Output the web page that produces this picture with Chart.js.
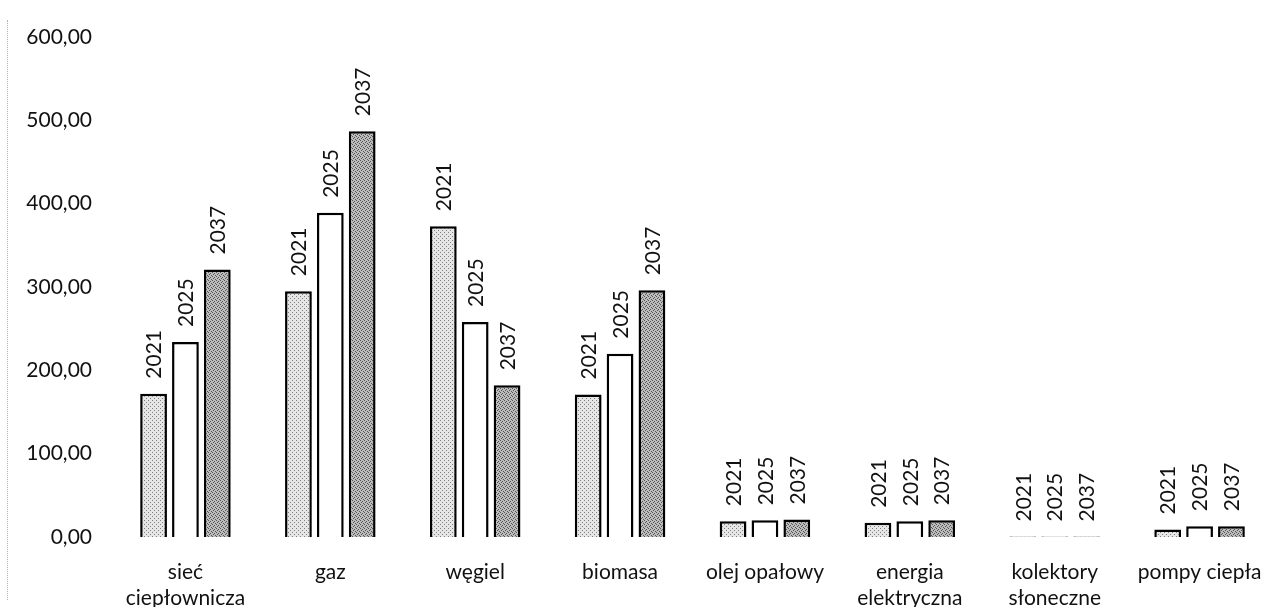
<!DOCTYPE html>
<html>
<head>
<meta charset="utf-8">
<script src="https://cdn.jsdelivr.net/npm/chart.js@4.4.1/dist/chart.umd.min.js"></script>
<style>
  html, body { margin: 0; padding: 0; background: #fff; }
  #wrap { position: relative; width: 1285px; height: 607px; }
  #edge { position: absolute; left: 7px; top: 20px; height: 580px; border-left: 1px dotted #b0b0b0; }
  canvas { display: block; }
</style>
</head>
<body>
<div id="wrap">
  <div id="edge"></div>
  <canvas id="c" width="1285" height="607"></canvas>
</div>
<script>
// Źródła ciepła – zapotrzebowanie w latach 2021, 2025, 2037
const categories = [
  ['sieć', 'ciepłownicza'],
  'gaz',
  'węgiel',
  'biomasa',
  'olej opałowy',
  ['energia', 'elektryczna'],
  ['kolektory', 'słoneczne'],
  'pompy ciepła'
];
const years = ['2021', '2025', '2037'];
const values2021 = [172, 295, 373, 171, 19, 17, 0.6, 9];
const values2025 = [234, 389, 258, 220, 20, 19, 0.6, 13];
const values2037 = [321, 487, 182, 296, 21, 20, 0.6, 13];
const yTicks = [0, 100, 200, 300, 400, 500, 600];

const FONT = 'Lato, "Open Sans", sans-serif';

// stippled fills made from a fixed dot matrix
function stipple(base, dot, cells) {
  const size = 4;
  const cv = document.createElement('canvas');
  cv.width = size; cv.height = size;
  const g = cv.getContext('2d');
  g.fillStyle = base;
  g.fillRect(0, 0, size, size);
  g.fillStyle = dot;
  cells.forEach(([x, y]) => g.fillRect(x, y, 1, 1));
  return g.createPattern(cv, 'repeat');
}
const ctx = document.getElementById('c').getContext('2d');
const fillLight = stipple('#e6e6e6', '#808080', [[0, 0], [2, 2]]);
const fillDark = stipple('#bcbcbc', '#555555', [[0, 0], [2, 1], [1, 2], [3, 3]]);

// vertical year labels above each bar
const barLabels = {
  id: 'barLabels',
  afterDatasetsDraw(chart) {
    const c = chart.ctx;
    c.save();
    c.font = '21px ' + FONT;
    c.fillStyle = '#111';
    c.textAlign = 'left';
    c.textBaseline = 'middle';
    chart.data.datasets.forEach((ds, i) => {
      chart.getDatasetMeta(i).data.forEach(bar => {
        c.save();
        c.translate(bar.x, bar.y - 15);
        c.rotate(-Math.PI / 2);
        c.fillText(ds.label, 0, 1);
        c.restore();
      });
    });
    c.restore();
  }
};

const common = {
  borderColor: '#000',
  borderWidth: 2.5,
  borderSkipped: 'bottom',
  categoryPercentage: 0.66,
  barPercentage: 0.84
};

new Chart(ctx, {
  type: 'bar',
  data: {
    labels: categories,
    datasets: [
      Object.assign({ label: years[0], data: values2021, backgroundColor: fillLight }, common),
      Object.assign({ label: years[1], data: values2025, backgroundColor: '#ffffff' }, common),
      Object.assign({ label: years[2], data: values2037, backgroundColor: fillDark }, common)
    ]
  },
  options: {
    responsive: false,
    animation: false,
    layout: { padding: { top: 37, right: 11, left: 0, bottom: 0 } },
    plugins: { legend: { display: false }, tooltip: { enabled: false } },
    scales: {
      x: {
        grid: { display: false, drawTicks: false },
        border: { display: false },
        ticks: {
          color: '#111',
          font: { family: FONT, size: 21, lineHeight: 1.2 },
          padding: 23,
          maxRotation: 0,
          autoSkip: false
        },
        afterFit(s) { s.height = 70; }
      },
      y: {
        min: 0,
        max: 600,
        grid: { display: false, drawTicks: false },
        border: { display: false },
        afterBuildTicks(s) { s.ticks = yTicks.map(v => ({ value: v })); },
        ticks: {
          color: '#111',
          font: { family: FONT, size: 21 },
          padding: 21,
          callback: v => v.toFixed(2).replace('.', ',')
        },
        afterFit(s) { s.width = 113; }
      }
    }
  },
  plugins: [barLabels]
});
</script>
</body>
</html>
